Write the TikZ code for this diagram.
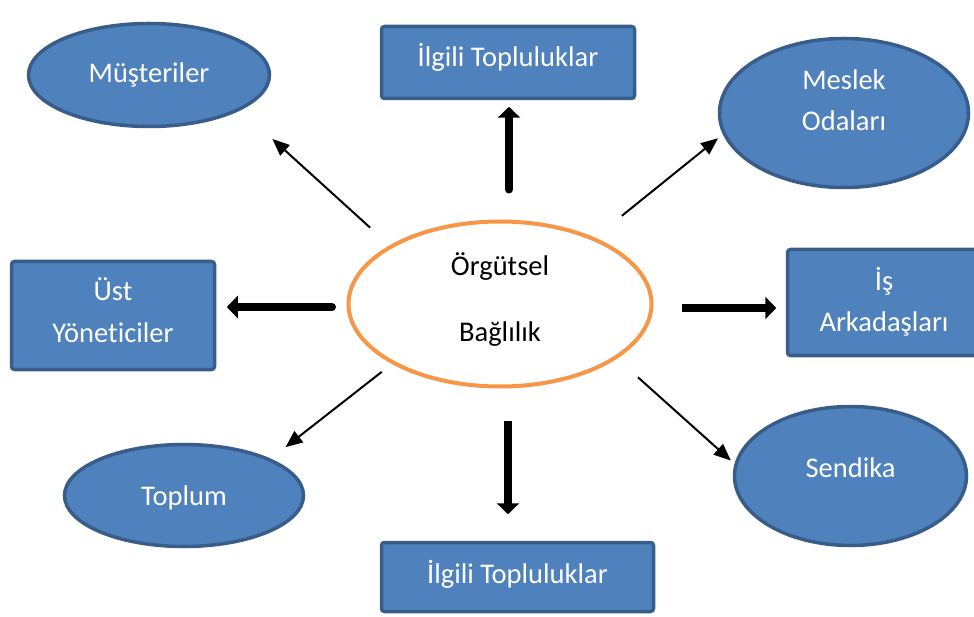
\documentclass[tikz,border=0pt]{standalone}
\usepackage{fontspec}
\setmainfont{Carlito}[Ligatures=NoCommon]
\usetikzlibrary{shapes.geometric,arrows.meta}
\definecolor{bfill}{HTML}{4F81BD}
\definecolor{bdraw}{HTML}{385D8A}
\definecolor{oran}{HTML}{F79646}
\begin{document}
\begin{tikzpicture}[x=1pt,y=-1pt,
  every node/.style={inner sep=0pt,align=center,font=\fontsize{28.5}{41}\selectfont},
  bell/.style={ellipse,draw=bdraw,fill=bfill,line width=3.5pt,text=white},
  brect/.style={rectangle,rounded corners=3pt,draw=bdraw,fill=bfill,line width=3.5pt,text=white},
  centre/.style={ellipse,draw=oran,fill=white,line width=4pt,text=black},
  txtpos/.style={text height=20pt,text depth=#1},
  txtlast/.style={text height=#1,text depth=0pt},
  thinarr/.style={line width=2pt,-{Triangle[length=17pt,width=14pt]}},
  thickarr/.style={line width=8pt,line cap=round,-{Triangle[length=11pt,width=22pt]}}]
\useasboundingbox (0,0) rectangle (974,617);
\node[bell,txtpos=4pt,minimum width=241pt,minimum height=103pt] (m) at (149,75) {Müşteriler};
\node[brect,txtpos=11pt,minimum width=253pt,minimum height=72pt] (t) at (508,62.5) {İlgili Topluluklar};
\node[bell,txtlast=36pt,minimum width=249pt,minimum height=149pt] (mo) at (844,113) {Meslek\\Odaları};
\node[centre,txtlast=75.4pt,minimum width=303pt,minimum height=165pt] (c) at (500,304) {Örgütsel\\[25.5pt]Bağlılık};
\node[brect,txtlast=53pt,minimum width=203pt,minimum height=108pt] (u) at (113,315.5) {Üst\\Yöneticiler};
\node[brect,txtlast=59pt,minimum width=193pt,minimum height=106pt] (i) at (884,302.5) {İş\\Arkadaşları};
\node[bell,txtpos=1pt,minimum width=239pt,minimum height=102pt] (tp) at (184,495.5) {Toplum};
\node[bell,txtpos=18pt,minimum width=232pt,minimum height=139pt] (s) at (850.5,476) {Sendika};
\node[brect,txtpos=8pt,minimum width=272pt,minimum height=69pt] (b) at (517.5,577) {İlgili Topluluklar};
% thin arrows
\draw[thinarr,shorten <=26.3pt,shorten >=42.8pt] (c.152.1) -- (m.-21.8);
\draw[thinarr,shorten <=34.7pt,shorten >=6.2pt] (c.35.2) -- (mo.-170.1);
\draw[thinarr,shorten <=12.9pt,shorten >=18.7pt] (c.-151.6) -- (tp.23.1);
\draw[thinarr,shorten <=28pt,shorten >=4.9pt] (c.-25.8) -- (s.174.2);
% thick arrows
\draw[thickarr,shorten <=30pt,shorten >=6.5pt] ([xshift=9pt]c.north) -- ([xshift=1pt]t.south);
\draw[thickarr,line cap=butt,shorten <=32.5pt,shorten >=26.5pt] ([xshift=8pt]c.south) -- ([xshift=-9.5pt]b.north);
\draw[thickarr,shorten <=14.5pt,shorten >=10.5pt] ([yshift=-3pt]c.west) -- ([yshift=8.5pt]u.east);
\draw[thickarr,line cap=butt,shorten <=28.5pt,shorten >=9.5pt] ([yshift=-4pt]c.east) -- ([yshift=-5.5pt]i.west);
\end{tikzpicture}
\end{document}
